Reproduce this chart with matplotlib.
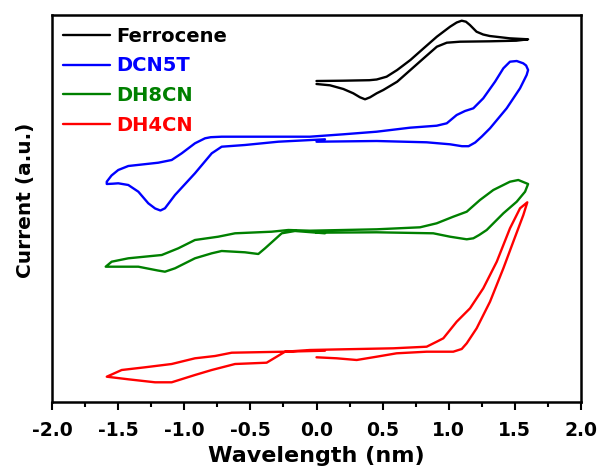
import matplotlib
matplotlib.use("Agg")
import matplotlib.pyplot as plt
from matplotlib.ticker import MultipleLocator, NullLocator

plt.rcParams['font.family'] = ['DejaVu Sans']
plt.rcParams['font.weight'] = 'bold'
plt.rcParams['axes.unicode_minus'] = False

labels = ["Ferrocene", "DCN5T", "DH8CN", "DH4CN"]
colors = ["#000000", "#0000FF", "#008000", "#FF0000"]

# Ferrocene
fc_x = [0.00, 0.20, 0.40, 0.455, 0.53, 0.61, 0.71, 0.81, 0.91, 1.01, 1.06, 1.098, 1.13, 1.16, 1.21, 1.26,
        1.31, 1.46, 1.60,
        1.51, 1.31, 1.085, 0.985, 0.91, 0.81, 0.71, 0.61, 0.505, 0.455, 0.405, 0.367, 0.329, 0.278,
        0.203, 0.102, 0.00]
fc_y = [321, 321.3, 321.8, 322.5, 325.3, 332, 342, 353.7, 365.3, 375.3, 379.5, 381.3, 380.3, 377, 370.3, 367.5,
        366, 363.7, 362.7,
        361.3, 360.7, 360.3, 359.3, 355.3, 343.7, 332, 320.3, 312, 308.7, 304.7, 302.7, 304.7, 308.7,
        313, 316.7, 318]

# DCN5T
dcn_x = [0.00, 0.455, 0.833, 1.01, 1.10, 1.15, 1.20, 1.25, 1.312, 1.438, 1.539, 1.589, 1.60, 1.585, 1.563,
         1.514, 1.463, 1.413, 1.35, 1.261, 1.186, 1.123, 1.06, 0.985, 0.909, 0.707, 0.455, 0.203, -0.05,
         -0.414, -0.717, -0.80, -0.843, -0.919, -1.019, -1.095, -1.196, -1.423, -1.499, -1.55, -1.586,
         -1.586, -1.54, -1.499, -1.423, -1.347, -1.272, -1.22, -1.18, -1.146, -1.07, -0.919, -0.792,
         -0.717, -0.541, -0.289, 0.064]
dcn_y = [260.3, 261, 259.7, 257.7, 255.8, 255.8, 259.5, 265.5, 273.7, 293.7, 313.7, 327, 332, 336.5, 338.7,
         341, 340.3, 333.7, 320.3, 303.7, 293.7, 291, 287, 278.7, 276.3, 274.3, 270.3, 267.7, 265.3,
         265.3, 265.3, 264.8, 263.7, 258.7, 248.7, 242, 239.3, 236, 232, 226.5, 220.3,
         218, 218.3, 218.7, 217, 210.3, 198.7, 193.5, 191.5, 193.7, 207, 228.7, 248.7,
         255.3, 257, 260.3, 262.7]

# DH8CN
dh8_x = [0.00, 0.455, 0.883, 1.01, 1.136, 1.186, 1.23, 1.287, 1.413, 1.514, 1.577, 1.60, 1.526, 1.463,
         1.337, 1.236, 1.136, 1.034, 0.909, 0.783, 0.455, -0.05, -0.213, -0.339, -0.616, -0.743, -0.919,
         -1.045, -1.17, -1.423, -1.549, -1.594, -1.473, -1.347, -1.20, -1.146, -1.07, -0.919, -0.792,
         -0.717, -0.541, -0.44, -0.389, -0.263, -0.163, 0.064]
dh8_y = [169.3, 169.7, 168.7, 165.3, 162.7, 163.7, 167, 172, 188.7, 200.3, 210.3, 218, 222, 220.3,
         212, 202, 190.3, 185.3, 178.7, 174.7, 172.7, 171.3, 172, 170.3, 168.7, 165.3, 162,
         153.7, 147, 143.7, 140.3, 135.3, 135.3, 135.3, 131.5, 130.3, 133.7, 143.7, 148.7,
         151, 149.7, 148, 153.7, 168.7, 171, 168.7]

# DH4CN
dh4_x = [0.00, 0.153, 0.304, 0.455, 0.606, 0.833, 1.034, 1.098, 1.136, 1.186, 1.211, 1.312, 1.413,
         1.488, 1.564, 1.594, 1.539, 1.463, 1.363, 1.261, 1.161, 1.06, 0.959, 0.909, 0.833, 0.581,
         0.203, -0.05, -0.238, -0.641, -0.767, -0.919, -1.095, -1.297, -1.473, -1.586, -1.423, -1.221,
         -1.095, -0.919, -0.792, -0.616, -0.377, -0.238, 0.064]
dh4_y = [44.7, 43.7, 42, 45.3, 48.7, 50.3, 50.3, 53, 58.7, 68.7, 73.7, 100.3, 133.7,
         160.3, 187, 199.7, 193.7, 173.7, 140.3, 113.7, 93.7, 80.3, 63.7, 60.3, 55.3, 53.7,
         52.7, 52, 50.3, 49.3, 46, 43.7, 38, 34.7, 32, 25.3, 22.7, 19.7,
         19.7, 27, 32, 38, 39.3, 50.3, 51.3]

xs = [fc_x, dcn_x, dh8_x, dh4_x]
ys = [fc_y, dcn_y, dh8_y, dh4_y]

fig = plt.figure(figsize=(5.98, 4.71), dpi=100)
ax = fig.add_axes([52/598, 1-402/471, (581-52)/598, (402-15)/471])

for x, y, c, lab in zip(xs, ys, colors, labels):
    ax.plot(x, y, color=c, lw=1.7, label=lab, solid_joinstyle='round', solid_capstyle='round')

ax.set_xlim(-2.0, 2.0)
ax.set_ylim(0, 387)
ax.xaxis.set_major_locator(MultipleLocator(0.5))
ax.xaxis.set_minor_locator(MultipleLocator(0.25))
ax.yaxis.set_major_locator(NullLocator())
ax.tick_params(axis='x', which='major', direction='out', length=6, width=1.5, labelsize=13.5, pad=8)
ax.tick_params(axis='x', which='minor', direction='out', length=3.5, width=1.5)
for lbl in ax.get_xticklabels():
    lbl.set_fontweight('bold')
for s in ax.spines.values():
    s.set_linewidth(1.8)

ax.set_xlabel("Wavelength (nm)", fontsize=16, fontweight='bold', labelpad=4)
ax.set_ylabel("Current (a.u.)", fontsize=14.5, fontweight='bold')
ax.yaxis.set_label_coords(-0.032, 0.522)

leg = ax.legend(loc='upper left', frameon=False, prop={'size': 14, 'weight': 'bold'},
                labelcolor='linecolor', handlelength=2.4, handletextpad=0.35,
                labelspacing=0.55, borderaxespad=0.0, bbox_to_anchor=(0.006, 0.99))

fig.savefig("out.png", dpi=100)
